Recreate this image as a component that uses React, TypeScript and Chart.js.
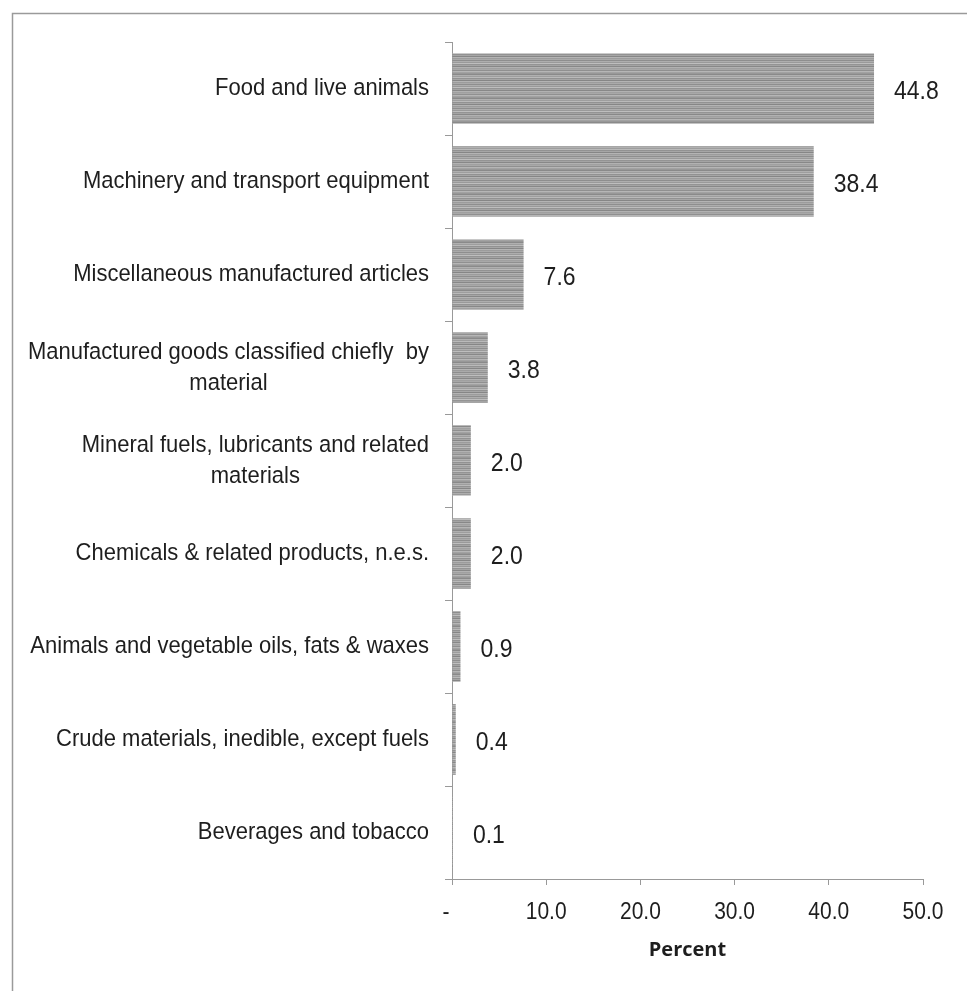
import React, { useEffect, useRef } from "react";
import { Chart, registerables } from "chart.js";

Chart.register(...registerables);

const categories: (string | string[])[] = [
  "Food and live animals",
  "Machinery and transport equipment",
  "Miscellaneous manufactured articles",
  ["Manufactured goods classified chiefly  by", "material"],
  ["Mineral fuels, lubricants and related", "materials"],
  "Chemicals & related products, n.e.s.",
  "Animals and vegetable oils, fats & waxes",
  "Crude materials, inedible, except fuels",
  "Beverages and tobacco",
];

const values: number[] = [44.8, 38.4, 7.6, 3.8, 2.0, 2.0, 0.9, 0.4, 0.1];

const xMin = 0;
const xMax = 50;
const xStep = 10;
const xTickValues: number[] = [0, 10, 20, 30, 40, 50];
const xTickLabels: string[] = ["-", "10.0", "20.0", "30.0", "40.0", "50.0"];
const axisTitle = "Percent";

const stripeGrays = [
  "#a2a2a2", "#989898", "#8a8a8a", "#b0b0b0", "#9e9e9e", "#bababa", "#929292",
  "#a6a6a6", "#868686", "#b4b4b4", "#9c9c9c", "#aaaaaa", "#8e8e8e", "#aeaeae",
  "#9a9a9a", "#bebebe", "#949494", "#a4a4a4", "#888888", "#b2b2b2", "#a0a0a0",
  "#a8a8a8", "#909090", "#b6b6b6",
];

function makePattern(ctx: CanvasRenderingContext2D): CanvasPattern | string {
  const c = document.createElement("canvas");
  c.width = 8;
  c.height = stripeGrays.length;
  const g = c.getContext("2d");
  if (!g) return "#a0a0a0";
  stripeGrays.forEach((col, i) => {
    g.fillStyle = col;
    g.fillRect(0, i, 8, 1);
  });
  return ctx.createPattern(c, "repeat") || "#a0a0a0";
}

const LABEL_FONT = "22px 'Liberation Sans', Arial, sans-serif";
const VALUE_FONT = "23px 'Liberation Sans', Arial, sans-serif";
const TICK_FONT = "21px 'Liberation Sans', Arial, sans-serif";
const TEXT_COLOR = "#1e1e1e";
const VSTRETCH = 1.12;

function drawStretched(ctx: CanvasRenderingContext2D, text: string, x: number, y: number) {
  ctx.save();
  ctx.translate(x, y);
  ctx.scale(1, VSTRETCH);
  ctx.fillText(text, 0, 0);
  ctx.restore();
}

const framePlugin = {
  id: "frame",
  beforeDraw(chart: any) {
    const ctx = chart.ctx as CanvasRenderingContext2D;
    ctx.save();
    ctx.fillStyle = "#ffffff";
    ctx.fillRect(0, 0, chart.width, chart.height);
    ctx.strokeStyle = "#9a9a9a";
    ctx.lineWidth = 1.5;
    ctx.beginPath();
    ctx.moveTo(12.5, chart.height);
    ctx.lineTo(12.5, 13.5);
    ctx.lineTo(chart.width, 13.5);
    ctx.stroke();
    ctx.restore();
  },
};

const labelsPlugin = {
  id: "customLabels",
  afterDatasetsDraw(chart: any) {
    const ctx = chart.ctx as CanvasRenderingContext2D;
    const yScale = chart.scales.y;
    const xScale = chart.scales.x;
    ctx.save();
    ctx.fillStyle = TEXT_COLOR;
    ctx.textBaseline = "middle";
    // category labels
    ctx.font = LABEL_FONT;
    const rightEdge = xScale.left - 23;
    categories.forEach((cat, i) => {
      const lines = Array.isArray(cat) ? cat : [cat];
      const y = yScale.getPixelForValue(i);
      const w = Math.max(...lines.map((l) => ctx.measureText(l).width));
      const cx = rightEdge - w / 2;
      ctx.textAlign = "center";
      lines.forEach((l, j) => {
        const ly = y + (j - (lines.length - 1) / 2) * 31;
        drawStretched(ctx, l, cx, ly);
      });
    });
    // value labels
    ctx.font = VALUE_FONT;
    ctx.textAlign = "left";
    values.forEach((v, i) => {
      const x = xScale.getPixelForValue(v) + 20;
      const y = yScale.getPixelForValue(i) + 3;
      drawStretched(ctx, v.toFixed(1), x, y);
    });
    // x tick labels
    ctx.font = TICK_FONT;
    ctx.textAlign = "center";
    const ty = yScale.bottom + 34;
    xTickValues.forEach((v, i) => {
      const x = xScale.getPixelForValue(v) + (v === 0 ? -6 : 0);
      drawStretched(ctx, xTickLabels[i], x, ty);
    });
    ctx.restore();
  },
};

export default function App() {
  const ref = useRef<HTMLCanvasElement | null>(null);

  useEffect(() => {
    const canvas = ref.current;
    if (!canvas) return;
    const ctx = canvas.getContext("2d");
    if (!ctx) return;
    const pattern = makePattern(ctx);
    const chart = new Chart(canvas, {
      type: "bar",
      data: {
        labels: categories,
        datasets: [
          {
            data: values,
            backgroundColor: pattern as any,
            borderWidth: 0,
            barPercentage: 0.76,
            categoryPercentage: 1,
          },
        ],
      },
      options: {
        indexAxis: "y",
        animation: false,
        responsive: false,
        devicePixelRatio: 1,
        layout: { padding: { top: 42, right: 44, bottom: 0, left: 0 } },
        plugins: {
          legend: { display: false },
          tooltip: { enabled: false },
        },
        scales: {
          y: {
            type: "category",
            offset: true,
            grid: {
              display: true,
              offset: true,
              drawOnChartArea: false,
              drawTicks: true,
              tickLength: 7,
              color: "#999999",
            },
            border: { display: true, color: "#999999", width: 1 },
            ticks: { display: false },
            afterFit: (s: any) => {
              s.width = 452;
            },
          },
          x: {
            type: "linear",
            min: xMin,
            max: xMax,
            ticks: {
              stepSize: xStep,
              display: false,
            },
            grid: {
              display: true,
              drawOnChartArea: false,
              drawTicks: true,
              tickLength: 6,
              color: "#999999",
            },
            border: { display: true, color: "#999999", width: 1 },
            title: {
              display: true,
              text: axisTitle,
              color: TEXT_COLOR,
              font: { family: "'Open Sans', sans-serif", size: 20, weight: "bold" },
              padding: { top: 0, bottom: 29 },
            },
            afterFit: (s: any) => {
              s.height = 112;
            },
          },
        },
      },
      plugins: [framePlugin, labelsPlugin],
    });
    return () => chart.destroy();
  }, []);

  return (
    <div style={{ position: "absolute", left: 0, top: 0, width: 967, height: 991 }}>
      <canvas ref={ref} width={967} height={991} style={{ width: 967, height: 991, display: "block" }} />
    </div>
  );
}
